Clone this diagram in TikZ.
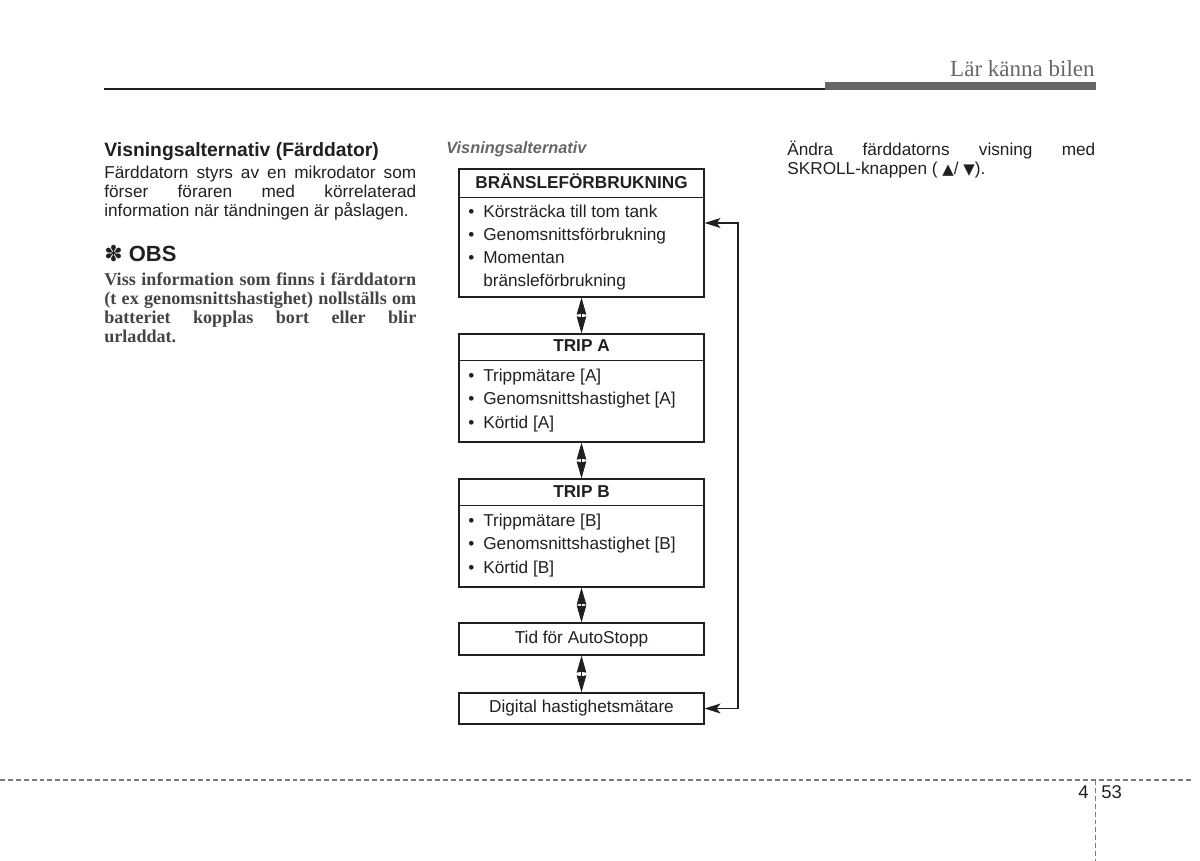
\documentclass[tikz,border=0pt]{standalone}
\usepackage{fontspec}
\setmainfont{Liberation Sans}
\newfontfamily\timesfont{Liberation Serif}
\newfontfamily\symfont{DejaVu Sans}
\usetikzlibrary{arrows.meta}

\definecolor{ink}{HTML}{231F20}
\definecolor{obsgray}{HTML}{444444}
\definecolor{rulegray}{HTML}{666666}
\definecolor{footgray}{HTML}{7A7A7A}

\newcommand{\bul}{\makebox[8.5pt][l]{\textbullet}}
\newcommand{\jleft}[1]{\makebox[6.24cm][s]{#1}}
\newcommand{\jright}[1]{\makebox[6.16cm][s]{#1}}

\begin{document}
\begin{tikzpicture}[
        x=0.02cm, y=-0.02cm,
        box/.style={draw=ink, line width=0.7pt, minimum width=4.9cm,
                    inner sep=0pt, font=\fontsize{9.8}{11}\selectfont, text=ink},
        head/.style={font=\bfseries\fontsize{9.8}{11}\selectfont, text=ink, anchor=base},
        items/.style={font=\fontsize{9.8}{13.2}\selectfont, text=ink, align=left,
                      inner sep=0pt, anchor=base west},
        para/.style={font=\fontsize{9.8}{10.9}\selectfont, text=ink, align=left,
                     inner sep=0pt, anchor=base west},
        dbl/.style={{Stealth[length=0.34cm,width=0.19cm,inset=0.02cm]}-{Stealth[length=0.34cm,width=0.19cm,inset=0.02cm]},
                    line width=0.5pt, draw=ink},
        back/.style={{Stealth[length=0.32cm,width=0.2cm,inset=0.08cm]}-{Stealth[length=0.32cm,width=0.2cm,inset=0.08cm]},
                     line width=0.6pt, draw=ink}
    ]
        \useasboundingbox (0,0) rectangle (1200,861);

        % page head
        \draw[ink, line width=0.6pt] (104,89) -- (825,89);
        \fill[rulegray] (825,82) rectangle (1096,90.5);
        \node[anchor=base east, inner sep=0pt, text=rulegray,
              font=\timesfont\fontsize{13.1}{15}\selectfont] (chapter) at (1095,77) {Lär känna bilen};

        % left column (multi-line nodes sit on their last line)
        \node[para, font=\bfseries\fontsize{11}{13}\selectfont] (title) at (104,157) {Visningsalternativ (Färddator)};
        \node[para] (intro) at (104,217) {\jleft{Färddatorn styrs av en mikrodator som}\\
            \jleft{förser föraren med körrelaterad}\\ information när tändningen är påslagen.};
        \node[para, font=\bfseries\fontsize{12.5}{14}\selectfont] (obshead) at (104,262) {{\mdseries\symfont ✽} OBS};
        \node[para, text=obsgray, font=\timesfont\bfseries\fontsize{10.3}{10.9}\selectfont] (obsbody) at (104,343)
            {\jleft{Viss information som finns i färddatorn}\\ \jleft{(t ex genomsnittshastighet) nollställs om}\\
             \jleft{batteriet kopplas bort eller blir}\\ urladdat.};

        % display modes
        \node[para, text=rulegray, font=\bfseries\itshape\fontsize{9.3}{11}\selectfont] (viewlabel) at (446,154) {Visningsalternativ};

        \node[box, minimum height=2.56cm] (fuel) at (581.5,233) {};
        \draw[ink, line width=0.7pt] ([yshift=-0.58cm]fuel.north west) -- ([yshift=-0.58cm]fuel.north east);
        \node[head] (fuelhead) at (581.5,189) {BRÄNSLEFÖRBRUKNING};
        \node[items] (fuellist) at (468,287) {\bul Körsträcka till tom tank\\ \bul Genomsnittsförbrukning\\
            \bul Momentan\\ \hspace*{8.5pt}bränsleförbrukning};

        \node[box, minimum height=2.16cm] (tripa) at (581.5,388) {};
        \draw[ink, line width=0.7pt] ([yshift=-0.54cm]tripa.north west) -- ([yshift=-0.54cm]tripa.north east);
        \node[head] (tripahead) at (581.5,352) {TRIP A};
        \node[items] (tripalist) at (468,428) {\bul Trippmätare [A]\\ \bul Genomsnittshastighet [A]\\ \bul Körtid [A]};

        \node[box, minimum height=2.16cm] (tripb) at (581.5,533) {};
        \draw[ink, line width=0.7pt] ([yshift=-0.54cm]tripb.north west) -- ([yshift=-0.54cm]tripb.north east);
        \node[head] (tripbhead) at (581.5,497) {TRIP B};
        \node[items] (tripblist) at (468,573) {\bul Trippmätare [B]\\ \bul Genomsnittshastighet [B]\\ \bul Körtid [B]};

        \node[box, minimum height=0.64cm] (autostop) at (581.5,639) {Tid för AutoStopp};
        \node[box, minimum height=0.62cm] (digital) at (581.5,708.5) {Digital hastighetsmätare};

        \draw[dbl] (fuel.south) -- (tripa.north);
        \draw[dbl] (tripa.south) -- (tripb.north);
        \draw[dbl] (tripb.south) -- (autostop.north);
        \draw[dbl] (autostop.south) -- (digital.north);

        \coordinate (loop) at (738,223);
        \draw[back] (fuel.east |- loop) -- (loop) |- (digital.east);

        % right column
        \node[para] (scroll) at (787,175) {\jright{Ändra färddatorns visning med}\\
            SKROLL-knappen ( {\symfont\fontsize{8.5}{10}\selectfont ▲}/ {\symfont\fontsize{8.5}{10}\selectfont ▼}).};

        % page foot
        \draw[footgray, line width=0.8pt, dash pattern=on 2.8pt off 1.7pt] (0,780) -- (1192,780);
        \draw[footgray, line width=0.8pt, dash pattern=on 2.8pt off 1.7pt] (1095.5,780) -- (1095.5,861);
        \node[anchor=base east, inner sep=0pt, text=ink, font=\fontsize{10.5}{12}\selectfont] (chapno) at (1089,798) {4};
        \node[anchor=base west, inner sep=0pt, text=ink, font=\fontsize{10.5}{12}\selectfont] (pageno) at (1101,798) {53};
    \end{tikzpicture}
\end{document}
